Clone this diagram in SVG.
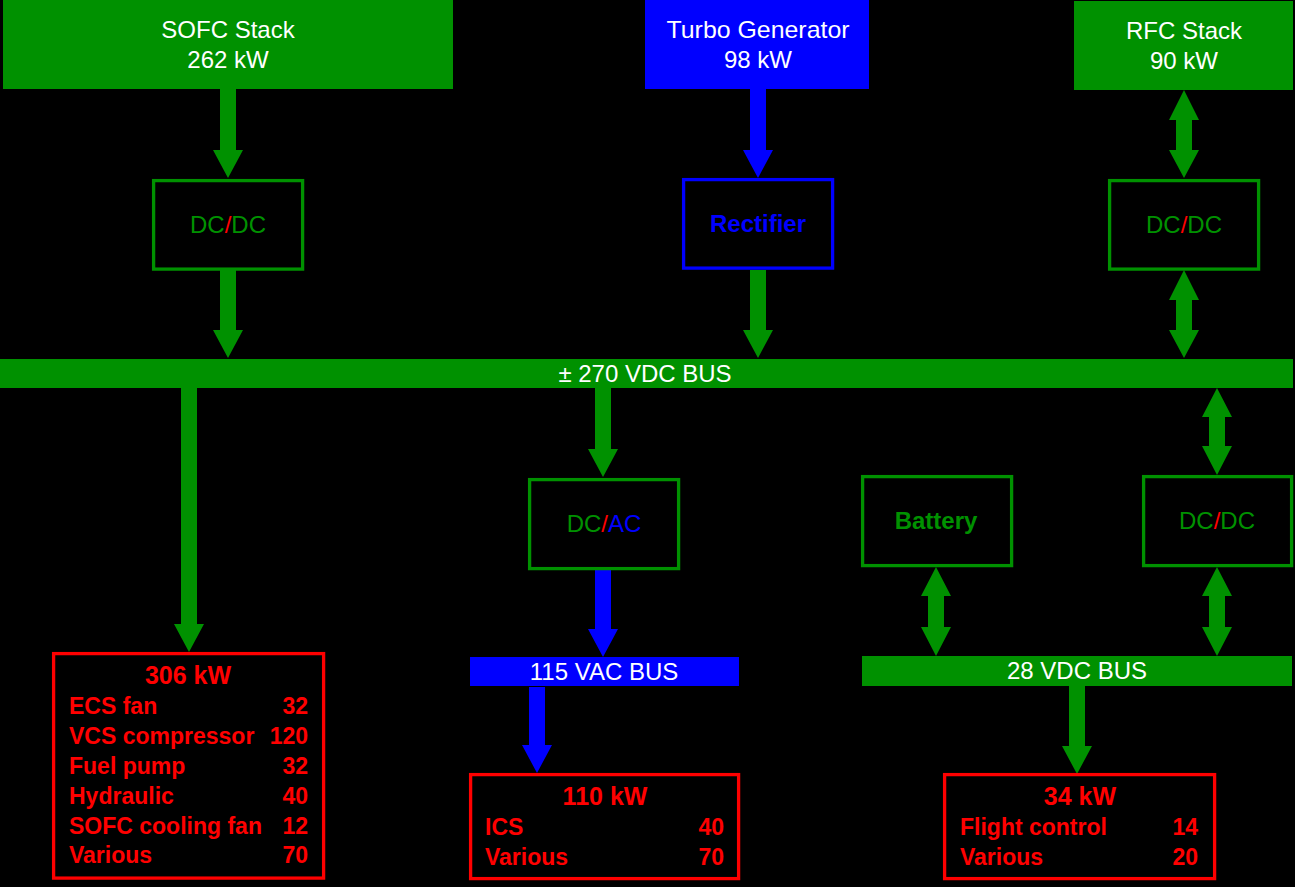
<svg xmlns="http://www.w3.org/2000/svg" width="1295" height="887" viewBox="0 0 1295 887">
<style>
text{font-family:"Liberation Sans",Arial,sans-serif}
.g{fill:#009100}
.b{fill:#0000ff}
.src{font-size:24px;fill:#fff;text-anchor:middle}
.bus{font-size:24px;fill:#fff;text-anchor:middle}
.conv{fill:none;stroke-width:3.3}
.cg{stroke:#009100}
.cb{stroke:#0000ff}
.ct{font-size:24px;text-anchor:middle}
.load{fill:none;stroke:#ff0000;stroke-width:3.3}
.lt{font-size:23px;font-weight:bold;fill:#ff0000}
.lh{font-size:25px;font-weight:bold;fill:#ff0000;text-anchor:middle}
.r{text-anchor:end}
</style>
<rect width="1295" height="887" fill="#000"/>

<g id="connectors">
<polygon class="g" points="220,89 236,89 236,150 243,150 228,178 213,150 220,150"/>
<polygon class="g" points="220,270 236,270 236,330 243,330 228,358 213,330 220,330"/>
<polygon class="b" points="750,89 766,89 766,150 773,150 758,178 743,150 750,150"/>
<polygon class="g" points="750,270 766,270 766,330 773,330 758,358 743,330 750,330"/>
<polygon class="g" points="1184,90 1199,120 1192,120 1192,150 1199,150 1184,178 1169,150 1176,150 1176,120 1169,120"/>
<polygon class="g" points="1184,270 1199,300 1192,300 1192,330 1199,330 1184,358 1169,330 1176,330 1176,300 1169,300"/>
<polygon class="g" points="181,388 197,388 197,624 204,624 189,652 174,624 181,624"/>
<polygon class="g" points="595,388 611,388 611,449 618,449 603,477 588,449 595,449"/>
<polygon class="b" points="595,570 611,570 611,629 618,629 603,657 588,629 595,629"/>
<polygon class="b" points="529,687 545,687 545,745 552,745 537,773 522,745 529,745"/>
<polygon class="g" points="1217,388 1232,417 1225,417 1225,446 1232,446 1217,475 1202,446 1209,446 1209,417 1202,417"/>
<polygon class="g" points="936,567 951,596 944,596 944,627 951,627 936,656 921,627 928,627 928,596 921,596"/>
<polygon class="g" points="1217,567 1232,596 1225,596 1225,627 1232,627 1217,656 1202,627 1209,627 1209,596 1202,596"/>
<polygon class="g" points="1069,686 1085,686 1085,746 1092,746 1077,774 1062,746 1069,746"/>
</g>

<g id="sofc">
<rect class="g" x="3" y="0" width="450" height="89"/>
<text class="src" x="228" y="38">SOFC Stack</text>
<text class="src" x="228" y="68">262 kW</text>
</g>

<g id="turbo">
<rect class="b" x="645" y="0" width="224" height="89"/>
<text class="src" x="758" y="38" textLength="183" lengthAdjust="spacingAndGlyphs">Turbo Generator</text>
<text class="src" x="758" y="68">98 kW</text>
</g>

<g id="rfc">
<rect class="g" x="1074" y="1" width="219" height="89"/>
<text class="src" x="1184" y="39">RFC Stack</text>
<text class="src" x="1184" y="69">90 kW</text>
</g>

<g id="dcdc1">
<rect class="conv cg" x="153.6" y="180.6" width="149" height="88.5"/>
<text class="ct" x="228" y="233"><tspan fill="#009100">DC</tspan><tspan fill="#ff0000">/</tspan><tspan fill="#009100">DC</tspan></text>
</g>

<g id="rectifier">
<rect class="conv cb" x="683.6" y="179.6" width="149" height="88.5"/>
<text class="ct" x="758" y="232" font-weight="bold" fill="#0000ff" font-size="23">Rectifier</text>
</g>

<g id="dcdc2">
<rect class="conv cg" x="1109.6" y="180.6" width="149" height="88.5"/>
<text class="ct" x="1184" y="233"><tspan fill="#009100">DC</tspan><tspan fill="#ff0000">/</tspan><tspan fill="#009100">DC</tspan></text>
</g>

<g id="bus270">
<rect class="g" x="0" y="359" width="1293" height="29"/>
<text class="bus" x="645" y="382">± 270 VDC BUS</text>
</g>

<g id="dcac">
<rect class="conv cg" x="529.6" y="479.6" width="149" height="89"/>
<text class="ct" x="604" y="532"><tspan fill="#009100">DC</tspan><tspan fill="#ff0000">/</tspan><tspan fill="#0000ff">AC</tspan></text>
</g>

<g id="battery">
<rect class="conv cg" x="862.6" y="476.6" width="149" height="89"/>
<text class="ct" x="936" y="529" font-weight="bold" fill="#009100" font-size="22">Battery</text>
</g>

<g id="dcdc3">
<rect class="conv cg" x="1143.6" y="476.6" width="148" height="89"/>
<text class="ct" x="1217" y="529"><tspan fill="#009100">DC</tspan><tspan fill="#ff0000">/</tspan><tspan fill="#009100">DC</tspan></text>
</g>

<g id="bus115">
<rect class="b" x="470" y="657" width="269" height="29"/>
<text class="bus" x="604" y="680">115 VAC BUS</text>
</g>

<g id="bus28">
<rect class="g" x="862" y="656" width="430" height="30"/>
<text class="bus" x="1077" y="679">28 VDC BUS</text>
</g>

<g id="load306">
<rect class="load" x="53.6" y="653.6" width="270" height="224.5"/>
<text class="lh" x="188" y="684">306 kW</text>
<text class="lt" x="69" y="714">ECS fan</text><text class="lt r" x="308" y="714">32</text>
<text class="lt" x="69" y="744">VCS compressor</text><text class="lt r" x="308" y="744">120</text>
<text class="lt" x="69" y="774">Fuel pump</text><text class="lt r" x="308" y="774">32</text>
<text class="lt" x="69" y="804">Hydraulic</text><text class="lt r" x="308" y="804">40</text>
<text class="lt" x="69" y="834">SOFC cooling fan</text><text class="lt r" x="308" y="834">12</text>
<text class="lt" x="69" y="863">Various</text><text class="lt r" x="308" y="863">70</text>
</g>

<g id="load110">
<rect class="load" x="470.6" y="774.6" width="268" height="104"/>
<text class="lh" x="605" y="805">110 kW</text>
<text class="lt" x="485" y="835">ICS</text><text class="lt r" x="724" y="835">40</text>
<text class="lt" x="485" y="865">Various</text><text class="lt r" x="724" y="865">70</text>
</g>

<g id="load34">
<rect class="load" x="944.6" y="774.6" width="270" height="104"/>
<text class="lh" x="1080" y="805">34 kW</text>
<text class="lt" x="960" y="835">Flight control</text><text class="lt r" x="1198" y="835">14</text>
<text class="lt" x="960" y="865">Various</text><text class="lt r" x="1198" y="865">20</text>
</g>
</svg>
